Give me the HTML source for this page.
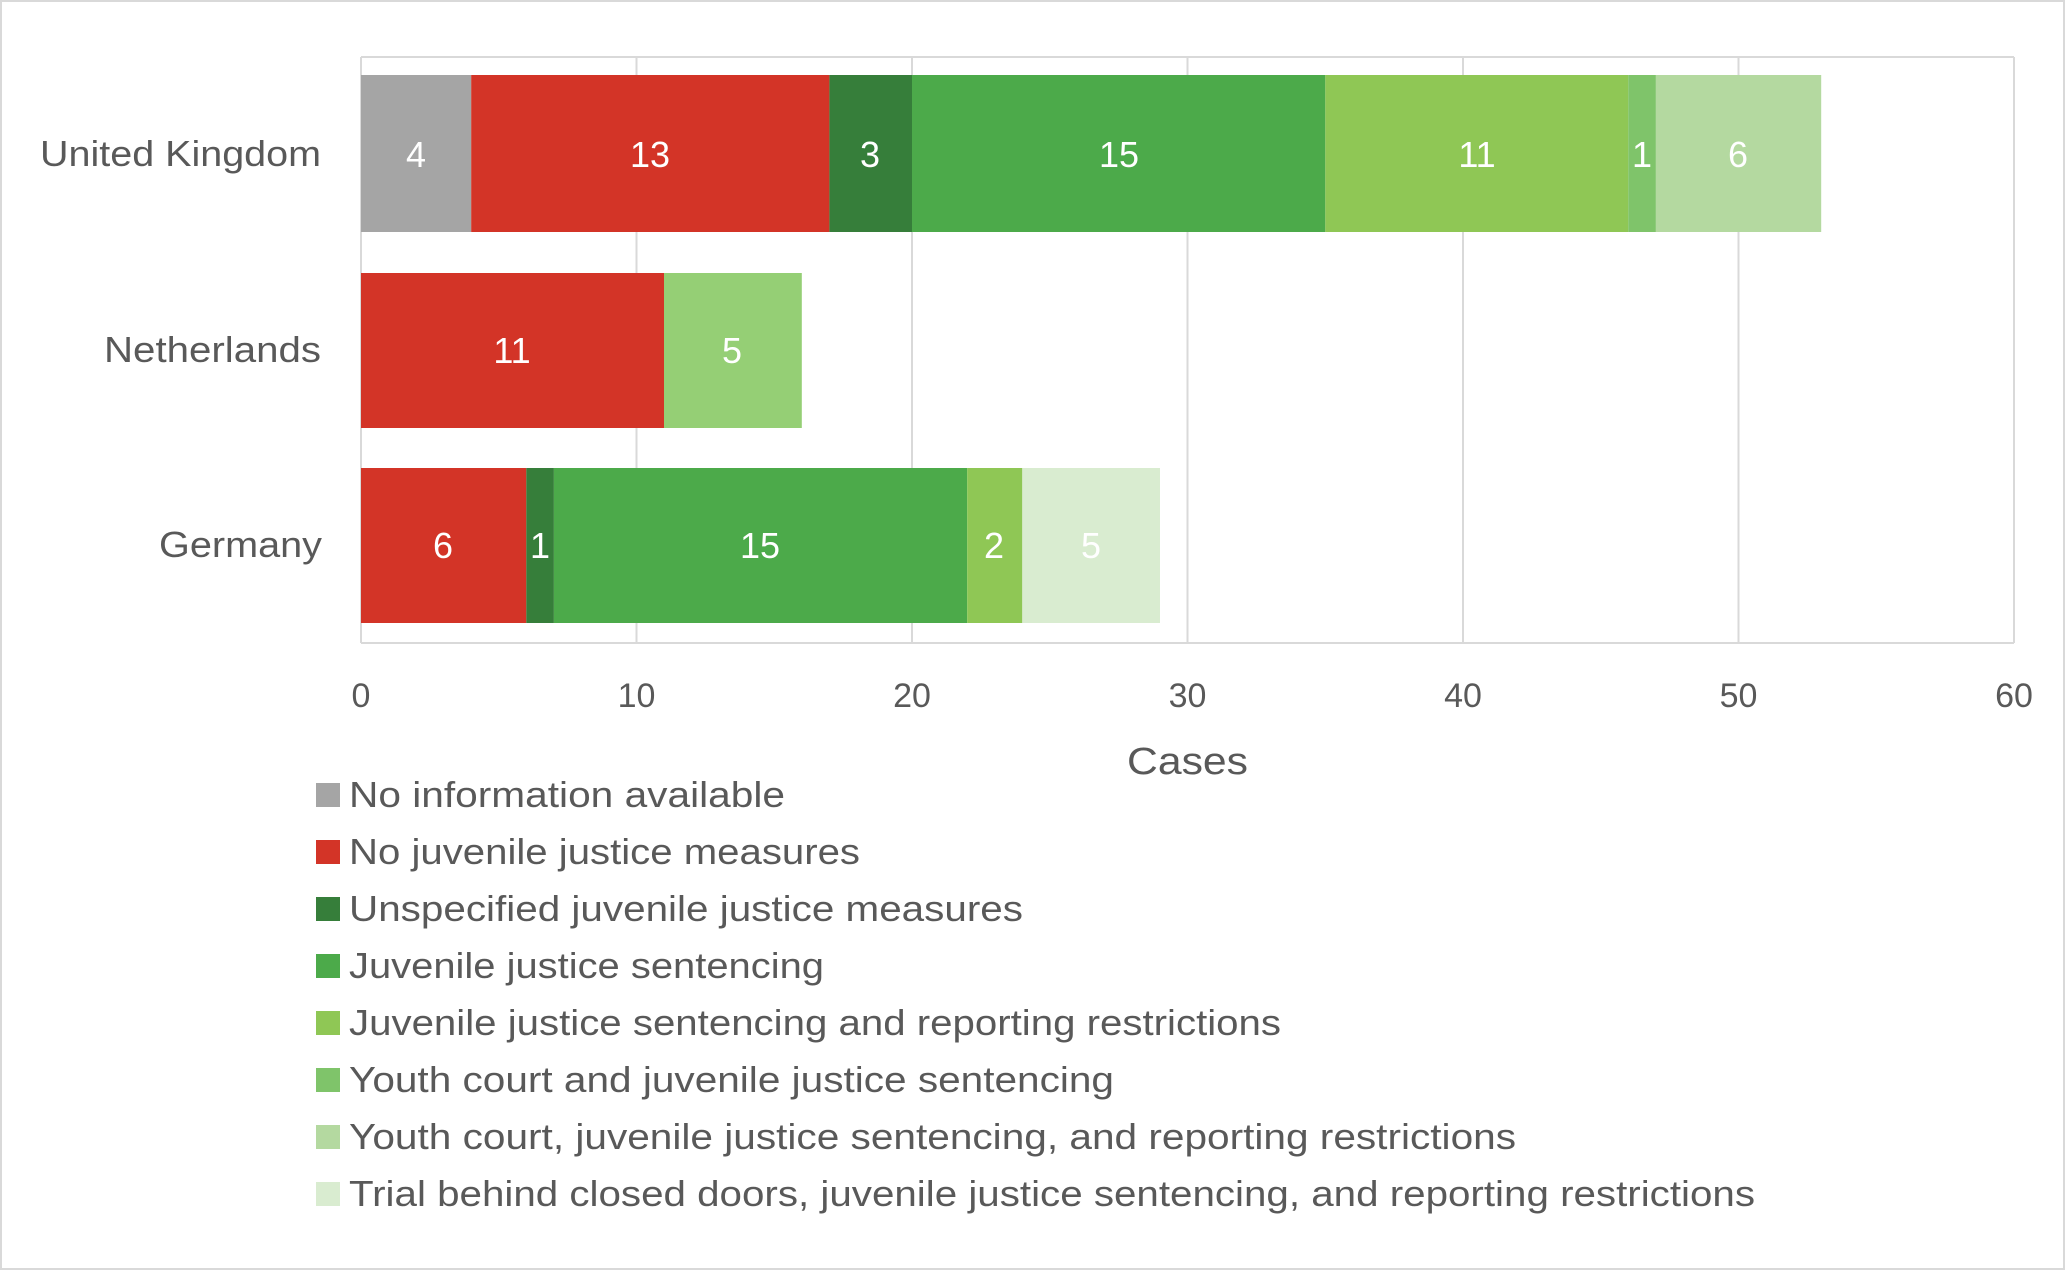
<!DOCTYPE html>
<html><head><meta charset="utf-8"><style>
html,body{margin:0;padding:0;background:#fff;}
svg{display:block;font-family:"Liberation Sans",sans-serif;}
</style></head><body>
<svg width="2065" height="1270" viewBox="0 0 2065 1270" xmlns="http://www.w3.org/2000/svg">
<rect x="1" y="1" width="2063" height="1268" fill="#fff" stroke="#d9d9d9" stroke-width="2"/>
<g stroke="#d9d9d9" stroke-width="2">
<line x1="361" y1="57" x2="361" y2="643"/>
<line x1="636.5" y1="57" x2="636.5" y2="643"/>
<line x1="912" y1="57" x2="912" y2="643"/>
<line x1="1187.5" y1="57" x2="1187.5" y2="643"/>
<line x1="1463" y1="57" x2="1463" y2="643"/>
<line x1="1738.5" y1="57" x2="1738.5" y2="643"/>
<line x1="2014" y1="57" x2="2014" y2="643"/>
<line x1="361" y1="57" x2="2014" y2="57"/>
<line x1="361" y1="643" x2="2014" y2="643"/>
</g>
<g>
<rect x="361" y="75" width="110.2" height="157" fill="#a5a5a5"/>
<rect x="471.2" y="75" width="358.2" height="157" fill="#d33427"/>
<rect x="829.4" y="75" width="82.6" height="157" fill="#367e3a"/>
<rect x="912" y="75" width="413.3" height="157" fill="#4caa4a"/>
<rect x="1325.3" y="75" width="303" height="157" fill="#8fc755"/>
<rect x="1628.3" y="75" width="27.6" height="157" fill="#7fc46a"/>
<rect x="1655.9" y="75" width="165.3" height="157" fill="#b4d9a0"/>
</g>
<rect x="361" y="273" width="303" height="155" fill="#d33427"/>
<rect x="664" y="273" width="137.8" height="155" fill="#95cf75"/>
<rect x="361" y="468" width="165.3" height="155" fill="#d33427"/>
<rect x="526.3" y="468" width="27.6" height="155" fill="#367e3a"/>
<rect x="553.9" y="468" width="413.3" height="155" fill="#4caa4a"/>
<rect x="967.2" y="468" width="55.1" height="155" fill="#8fc755"/>
<rect x="1022.3" y="468" width="137.7" height="155" fill="#d9ecd0"/>
<g fill="#fff" font-size="36" text-anchor="middle">
<text x="416" y="167">4</text>
<text x="650" y="167">13</text>
<text x="870" y="167">3</text>
<text x="1119" y="167">15</text>
<text x="1477" y="167">11</text>
<text x="1642" y="167">1</text>
<text x="1738" y="167">6</text>
<text x="512" y="363">11</text>
<text x="732" y="363">5</text>
<text x="443" y="558">6</text>
<text x="540" y="558">1</text>
<text x="760" y="558">15</text>
<text x="994" y="558">2</text>
<text x="1091" y="558">5</text>
</g>
<g fill="#595959" font-size="36" text-anchor="end">
<text x="321" y="166" textLength="281" lengthAdjust="spacingAndGlyphs">United Kingdom</text>
<text x="321" y="362" textLength="217" lengthAdjust="spacingAndGlyphs">Netherlands</text>
<text x="322" y="557" textLength="163" lengthAdjust="spacingAndGlyphs">Germany</text>
</g>
<g fill="#595959" font-size="34" text-anchor="middle">
<text x="361" y="707">0</text>
<text x="636.5" y="707">10</text>
<text x="912" y="707">20</text>
<text x="1187.5" y="707">30</text>
<text x="1463" y="707">40</text>
<text x="1738.5" y="707">50</text>
<text x="2014" y="707">60</text>
</g>
<text x="1127" y="774" font-size="38" fill="#595959" textLength="121" lengthAdjust="spacingAndGlyphs">Cases</text>
<g font-size="36" fill="#595959">
<rect x="316" y="783" width="24" height="24" fill="#a5a5a5"/><text x="349" y="807" textLength="436" lengthAdjust="spacingAndGlyphs">No information available</text>
<rect x="316" y="840" width="24" height="24" fill="#d33427"/><text x="349" y="864" textLength="511" lengthAdjust="spacingAndGlyphs">No juvenile justice measures</text>
<rect x="316" y="897" width="24" height="24" fill="#367e3a"/><text x="349" y="921" textLength="674" lengthAdjust="spacingAndGlyphs">Unspecified juvenile justice measures</text>
<rect x="316" y="954" width="24" height="24" fill="#4caa4a"/><text x="349" y="978" textLength="475" lengthAdjust="spacingAndGlyphs">Juvenile justice sentencing</text>
<rect x="316" y="1011" width="24" height="24" fill="#8fc755"/><text x="349" y="1035" textLength="932" lengthAdjust="spacingAndGlyphs">Juvenile justice sentencing and reporting restrictions</text>
<rect x="316" y="1068" width="24" height="24" fill="#7fc46a"/><text x="349" y="1092" textLength="765" lengthAdjust="spacingAndGlyphs">Youth court and juvenile justice sentencing</text>
<rect x="316" y="1125" width="24" height="24" fill="#b4d9a0"/><text x="349" y="1149" textLength="1167" lengthAdjust="spacingAndGlyphs">Youth court, juvenile justice sentencing, and reporting restrictions</text>
<rect x="316" y="1182" width="24" height="24" fill="#d9ecd0"/><text x="349" y="1206" textLength="1406" lengthAdjust="spacingAndGlyphs">Trial behind closed doors, juvenile justice sentencing, and reporting restrictions</text>
</g>
</svg>
</body></html>
